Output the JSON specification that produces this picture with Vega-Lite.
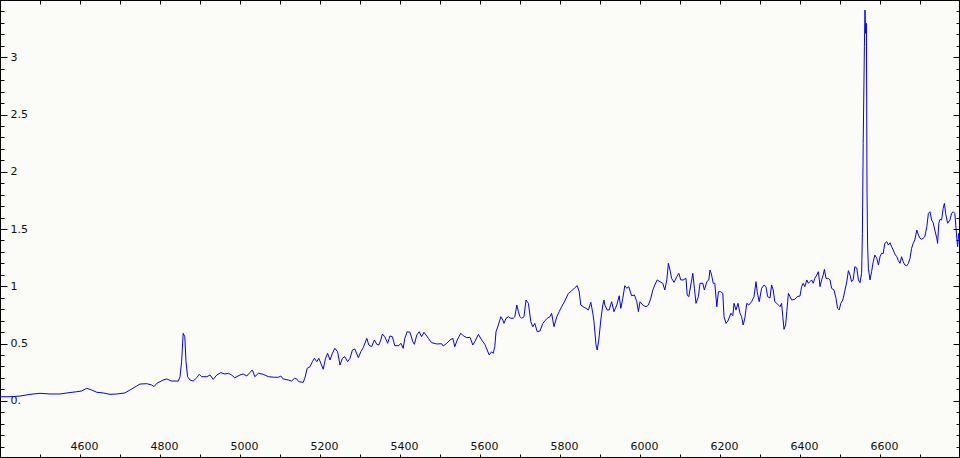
{
  "$schema": "https://vega.github.io/schema/vega-lite/v6.json",
  "width": 960,
  "height": 458,
  "autosize": {"type": "none"},
  "padding": 0,
  "background": "#fbfcf8",
  "config": {
    "view": {"stroke": "#000000", "strokeWidth": 2},
    "axis": {"domain": false, "grid": false, "tickColor": "#000000", "labelFont": "DejaVu Sans", "labelFontSize": 11, "labelColor": "#111111", "labelFlush": false, "labelOverlap": false}
  },
  "datasets": {
    "spec": [
      {"w": 4400, "f": 0.035}, {"w": 4425, "f": 0.035}, {"w": 4450, "f": 0.041}, {"w": 4475, "f": 0.056}, {"w": 4500, "f": 0.065},
      {"w": 4525, "f": 0.059}, {"w": 4550, "f": 0.059}, {"w": 4567, "f": 0.068}, {"w": 4592, "f": 0.079}, {"w": 4604, "f": 0.085},
      {"w": 4617, "f": 0.109}, {"w": 4629, "f": 0.094}, {"w": 4642, "f": 0.074}, {"w": 4658, "f": 0.068}, {"w": 4675, "f": 0.056},
      {"w": 4692, "f": 0.059}, {"w": 4712, "f": 0.068}, {"w": 4725, "f": 0.094}, {"w": 4742, "f": 0.129}, {"w": 4750, "f": 0.146},
      {"w": 4767, "f": 0.149}, {"w": 4779, "f": 0.138}, {"w": 4785, "f": 0.123}, {"w": 4792, "f": 0.152}, {"w": 4808, "f": 0.181},
      {"w": 4817, "f": 0.19}, {"w": 4829, "f": 0.172}, {"w": 4846, "f": 0.172}, {"w": 4850, "f": 0.21}, {"w": 4854, "f": 0.341},
      {"w": 4858, "f": 0.589}, {"w": 4862, "f": 0.559}, {"w": 4865, "f": 0.341}, {"w": 4869, "f": 0.21}, {"w": 4875, "f": 0.181},
      {"w": 4883, "f": 0.172}, {"w": 4892, "f": 0.201}, {"w": 4898, "f": 0.231}, {"w": 4904, "f": 0.21}, {"w": 4917, "f": 0.21},
      {"w": 4925, "f": 0.225}, {"w": 4933, "f": 0.187}, {"w": 4942, "f": 0.225}, {"w": 4952, "f": 0.245}, {"w": 4962, "f": 0.234},
      {"w": 4971, "f": 0.24}, {"w": 4979, "f": 0.225}, {"w": 4987, "f": 0.201}, {"w": 5000, "f": 0.225}, {"w": 5008, "f": 0.234},
      {"w": 5017, "f": 0.216}, {"w": 5025, "f": 0.248}, {"w": 5031, "f": 0.269}, {"w": 5037, "f": 0.21}, {"w": 5046, "f": 0.24},
      {"w": 5058, "f": 0.231}, {"w": 5071, "f": 0.21}, {"w": 5087, "f": 0.205}, {"w": 5096, "f": 0.205}, {"w": 5102, "f": 0.216},
      {"w": 5108, "f": 0.19}, {"w": 5121, "f": 0.181}, {"w": 5129, "f": 0.172}, {"w": 5136, "f": 0.196}, {"w": 5142, "f": 0.19},
      {"w": 5147, "f": 0.166}, {"w": 5158, "f": 0.161}, {"w": 5162, "f": 0.196}, {"w": 5168, "f": 0.283}, {"w": 5175, "f": 0.297},
      {"w": 5181, "f": 0.341}, {"w": 5186, "f": 0.371}, {"w": 5192, "f": 0.341}, {"w": 5197, "f": 0.371}, {"w": 5202, "f": 0.327},
      {"w": 5208, "f": 0.275}, {"w": 5214, "f": 0.371}, {"w": 5219, "f": 0.414}, {"w": 5225, "f": 0.356}, {"w": 5231, "f": 0.414},
      {"w": 5237, "f": 0.458}, {"w": 5244, "f": 0.428}, {"w": 5250, "f": 0.312}, {"w": 5256, "f": 0.371}, {"w": 5262, "f": 0.385},
      {"w": 5269, "f": 0.341}, {"w": 5275, "f": 0.371}, {"w": 5281, "f": 0.443}, {"w": 5287, "f": 0.452}, {"w": 5296, "f": 0.376},
      {"w": 5302, "f": 0.428}, {"w": 5308, "f": 0.463}, {"w": 5317, "f": 0.545}, {"w": 5322, "f": 0.487}, {"w": 5329, "f": 0.472},
      {"w": 5336, "f": 0.531}, {"w": 5342, "f": 0.493}, {"w": 5347, "f": 0.487}, {"w": 5352, "f": 0.531}, {"w": 5356, "f": 0.583},
      {"w": 5362, "f": 0.559}, {"w": 5369, "f": 0.502}, {"w": 5375, "f": 0.566}, {"w": 5381, "f": 0.559}, {"w": 5387, "f": 0.481},
      {"w": 5397, "f": 0.481}, {"w": 5402, "f": 0.502}, {"w": 5408, "f": 0.458}, {"w": 5412, "f": 0.545}, {"w": 5418, "f": 0.603},
      {"w": 5425, "f": 0.598}, {"w": 5432, "f": 0.516}, {"w": 5436, "f": 0.493}, {"w": 5442, "f": 0.574}, {"w": 5448, "f": 0.603},
      {"w": 5454, "f": 0.559}, {"w": 5460, "f": 0.598}, {"w": 5465, "f": 0.574}, {"w": 5471, "f": 0.545}, {"w": 5479, "f": 0.507},
      {"w": 5492, "f": 0.496}, {"w": 5504, "f": 0.498}, {"w": 5508, "f": 0.478}, {"w": 5517, "f": 0.502}, {"w": 5525, "f": 0.531},
      {"w": 5532, "f": 0.545}, {"w": 5537, "f": 0.472}, {"w": 5543, "f": 0.531}, {"w": 5552, "f": 0.589}, {"w": 5558, "f": 0.568},
      {"w": 5567, "f": 0.551}, {"w": 5575, "f": 0.554}, {"w": 5582, "f": 0.487}, {"w": 5587, "f": 0.516}, {"w": 5596, "f": 0.58},
      {"w": 5604, "f": 0.531}, {"w": 5612, "f": 0.493}, {"w": 5618, "f": 0.443}, {"w": 5623, "f": 0.4}, {"w": 5629, "f": 0.428},
      {"w": 5633, "f": 0.414}, {"w": 5637, "f": 0.472}, {"w": 5640, "f": 0.603}, {"w": 5646, "f": 0.662}, {"w": 5652, "f": 0.734},
      {"w": 5657, "f": 0.705}, {"w": 5660, "f": 0.676}, {"w": 5665, "f": 0.72}, {"w": 5671, "f": 0.734}, {"w": 5677, "f": 0.72},
      {"w": 5683, "f": 0.72}, {"w": 5687, "f": 0.734}, {"w": 5692, "f": 0.836}, {"w": 5696, "f": 0.778}, {"w": 5700, "f": 0.734},
      {"w": 5704, "f": 0.72}, {"w": 5710, "f": 0.734}, {"w": 5715, "f": 0.88}, {"w": 5721, "f": 0.851}, {"w": 5727, "f": 0.69},
      {"w": 5732, "f": 0.647}, {"w": 5737, "f": 0.676}, {"w": 5743, "f": 0.603}, {"w": 5750, "f": 0.609}, {"w": 5757, "f": 0.676},
      {"w": 5762, "f": 0.697}, {"w": 5768, "f": 0.72}, {"w": 5775, "f": 0.734}, {"w": 5779, "f": 0.764}, {"w": 5785, "f": 0.647},
      {"w": 5792, "f": 0.734}, {"w": 5798, "f": 0.778}, {"w": 5804, "f": 0.821}, {"w": 5812, "f": 0.871}, {"w": 5821, "f": 0.938},
      {"w": 5829, "f": 0.959}, {"w": 5837, "f": 0.987}, {"w": 5843, "f": 1.005}, {"w": 5848, "f": 0.952}, {"w": 5852, "f": 0.836},
      {"w": 5858, "f": 0.821}, {"w": 5865, "f": 0.807}, {"w": 5871, "f": 0.793}, {"w": 5877, "f": 0.86}, {"w": 5882, "f": 0.764},
      {"w": 5885, "f": 0.69}, {"w": 5890, "f": 0.487}, {"w": 5893, "f": 0.443}, {"w": 5897, "f": 0.531}, {"w": 5902, "f": 0.705},
      {"w": 5907, "f": 0.836}, {"w": 5910, "f": 0.88}, {"w": 5912, "f": 0.836}, {"w": 5918, "f": 0.793}, {"w": 5923, "f": 0.793},
      {"w": 5929, "f": 0.865}, {"w": 5935, "f": 0.778}, {"w": 5942, "f": 0.836}, {"w": 5948, "f": 0.917}, {"w": 5952, "f": 0.807},
      {"w": 5957, "f": 0.895}, {"w": 5962, "f": 1.005}, {"w": 5967, "f": 0.982}, {"w": 5972, "f": 0.996}, {"w": 5979, "f": 0.917},
      {"w": 5986, "f": 0.924}, {"w": 5992, "f": 0.865}, {"w": 5996, "f": 0.778}, {"w": 6000, "f": 0.865}, {"w": 6007, "f": 0.836},
      {"w": 6015, "f": 0.821}, {"w": 6021, "f": 0.836}, {"w": 6027, "f": 0.895}, {"w": 6032, "f": 0.967}, {"w": 6037, "f": 1.011},
      {"w": 6043, "f": 1.055}, {"w": 6050, "f": 1.04}, {"w": 6057, "f": 1.026}, {"w": 6062, "f": 0.967}, {"w": 6067, "f": 1.055},
      {"w": 6071, "f": 1.2}, {"w": 6075, "f": 1.142}, {"w": 6079, "f": 1.069}, {"w": 6085, "f": 1.034}, {"w": 6092, "f": 1.083},
      {"w": 6097, "f": 1.113}, {"w": 6102, "f": 1.055}, {"w": 6108, "f": 1.055}, {"w": 6115, "f": 1.069}, {"w": 6118, "f": 0.924},
      {"w": 6122, "f": 0.909}, {"w": 6127, "f": 1.011}, {"w": 6132, "f": 1.113}, {"w": 6136, "f": 0.982}, {"w": 6140, "f": 0.851},
      {"w": 6146, "f": 0.909}, {"w": 6150, "f": 1.026}, {"w": 6157, "f": 1.026}, {"w": 6161, "f": 0.967}, {"w": 6167, "f": 1.04},
      {"w": 6172, "f": 1.055}, {"w": 6175, "f": 1.142}, {"w": 6179, "f": 1.098}, {"w": 6183, "f": 1.026}, {"w": 6187, "f": 1.026},
      {"w": 6192, "f": 0.821}, {"w": 6196, "f": 0.952}, {"w": 6202, "f": 0.952}, {"w": 6207, "f": 0.938}, {"w": 6210, "f": 0.734},
      {"w": 6215, "f": 0.676}, {"w": 6221, "f": 0.705}, {"w": 6227, "f": 0.764}, {"w": 6232, "f": 0.743}, {"w": 6235, "f": 0.851},
      {"w": 6240, "f": 0.793}, {"w": 6245, "f": 0.851}, {"w": 6250, "f": 0.764}, {"w": 6254, "f": 0.734}, {"w": 6258, "f": 0.662},
      {"w": 6262, "f": 0.72}, {"w": 6267, "f": 0.851}, {"w": 6272, "f": 0.836}, {"w": 6279, "f": 0.865}, {"w": 6285, "f": 0.909},
      {"w": 6290, "f": 1.04}, {"w": 6293, "f": 0.952}, {"w": 6298, "f": 0.865}, {"w": 6304, "f": 0.982}, {"w": 6310, "f": 1.011},
      {"w": 6315, "f": 0.996}, {"w": 6319, "f": 0.909}, {"w": 6325, "f": 0.897}, {"w": 6329, "f": 1.011}, {"w": 6333, "f": 0.967},
      {"w": 6337, "f": 0.865}, {"w": 6342, "f": 0.851}, {"w": 6346, "f": 0.836}, {"w": 6350, "f": 0.821}, {"w": 6354, "f": 0.851},
      {"w": 6357, "f": 0.734}, {"w": 6360, "f": 0.624}, {"w": 6364, "f": 0.662}, {"w": 6367, "f": 0.778}, {"w": 6371, "f": 0.938},
      {"w": 6375, "f": 0.909}, {"w": 6379, "f": 0.88}, {"w": 6387, "f": 0.886}, {"w": 6393, "f": 0.909}, {"w": 6400, "f": 0.915},
      {"w": 6404, "f": 0.996}, {"w": 6408, "f": 1.026}, {"w": 6412, "f": 0.996}, {"w": 6417, "f": 1.055}, {"w": 6421, "f": 1.026},
      {"w": 6425, "f": 1.04}, {"w": 6429, "f": 1.055}, {"w": 6433, "f": 1.026}, {"w": 6437, "f": 1.069}, {"w": 6442, "f": 1.098},
      {"w": 6446, "f": 1.127}, {"w": 6450, "f": 0.996}, {"w": 6454, "f": 1.055}, {"w": 6458, "f": 1.098}, {"w": 6461, "f": 1.148},
      {"w": 6465, "f": 1.069}, {"w": 6471, "f": 1.069}, {"w": 6475, "f": 1.055}, {"w": 6479, "f": 0.982}, {"w": 6485, "f": 0.967},
      {"w": 6490, "f": 0.895}, {"w": 6494, "f": 0.807}, {"w": 6498, "f": 0.793}, {"w": 6502, "f": 0.851}, {"w": 6507, "f": 0.88},
      {"w": 6512, "f": 0.959}, {"w": 6517, "f": 1.04}, {"w": 6521, "f": 1.136}, {"w": 6525, "f": 1.098}, {"w": 6529, "f": 1.04},
      {"w": 6533, "f": 1.055}, {"w": 6537, "f": 1.171}, {"w": 6542, "f": 1.159}, {"w": 6546, "f": 1.055}, {"w": 6550, "f": 1.031},
      {"w": 6554, "f": 1.113}, {"w": 6556, "f": 1.462}, {"w": 6558, "f": 2.248}, {"w": 6561, "f": 3.092}, {"w": 6562.5, "f": 3.413},
      {"w": 6564, "f": 3.209}, {"w": 6566, "f": 3.296}, {"w": 6567.5, "f": 1.841}, {"w": 6569, "f": 1.36}, {"w": 6571, "f": 1.157},
      {"w": 6575, "f": 1.055}, {"w": 6579, "f": 1.127}, {"w": 6583, "f": 1.214}, {"w": 6587, "f": 1.273}, {"w": 6592, "f": 1.244},
      {"w": 6596, "f": 1.186}, {"w": 6600, "f": 1.258}, {"w": 6604, "f": 1.288}, {"w": 6608, "f": 1.284}, {"w": 6612, "f": 1.375},
      {"w": 6617, "f": 1.389}, {"w": 6621, "f": 1.36}, {"w": 6625, "f": 1.38}, {"w": 6629, "f": 1.345}, {"w": 6633, "f": 1.317},
      {"w": 6637, "f": 1.282}, {"w": 6642, "f": 1.258}, {"w": 6646, "f": 1.223}, {"w": 6650, "f": 1.2}, {"w": 6654, "f": 1.258},
      {"w": 6658, "f": 1.214}, {"w": 6662, "f": 1.186}, {"w": 6667, "f": 1.179}, {"w": 6671, "f": 1.2}, {"w": 6675, "f": 1.244},
      {"w": 6679, "f": 1.331}, {"w": 6683, "f": 1.375}, {"w": 6687, "f": 1.404}, {"w": 6692, "f": 1.491}, {"w": 6696, "f": 1.448},
      {"w": 6700, "f": 1.419}, {"w": 6704, "f": 1.41}, {"w": 6708, "f": 1.419}, {"w": 6712, "f": 1.433}, {"w": 6717, "f": 1.52},
      {"w": 6721, "f": 1.637}, {"w": 6725, "f": 1.651}, {"w": 6729, "f": 1.579}, {"w": 6733, "f": 1.555}, {"w": 6737, "f": 1.491},
      {"w": 6742, "f": 1.419}, {"w": 6744, "f": 1.375}, {"w": 6747, "f": 1.55}, {"w": 6750, "f": 1.585}, {"w": 6754, "f": 1.579},
      {"w": 6758, "f": 1.681}, {"w": 6761, "f": 1.724}, {"w": 6764, "f": 1.637}, {"w": 6769, "f": 1.55}, {"w": 6775, "f": 1.579},
      {"w": 6779, "f": 1.637}, {"w": 6783, "f": 1.651}, {"w": 6787, "f": 1.637}, {"w": 6792, "f": 1.419}, {"w": 6794, "f": 1.345},
      {"w": 6797, "f": 1.462}, {"w": 6799, "f": 1.404}
    ]
  },
  "data": {"name": "spec"},
  "resolve": {"axis": {"x": "independent", "y": "independent"}},
  "layer": [
    {
      "mark": {"type": "line", "color": "#0000ff", "strokeWidth": 1, "clip": true},
      "encoding": {
        "x": {"field": "w", "type": "quantitative", "scale": {"domain": [4400, 6800], "nice": false, "zero": false},
          "axis": {"orient": "top", "offset": -458, "title": null, "tickSize": 4, "labelPadding": 4.5, "labelBaseline": "alphabetic", "labelOffset": 4,
            "values": [4500, 4600, 4700, 4800, 4900, 5000, 5100, 5200, 5300, 5400, 5500, 5600, 5700, 5800, 5900, 6000, 6100, 6200, 6300, 6400, 6500, 6600, 6700],
            "labelExpr": "datum.value % 200 === 0 ? format(datum.value, 'd') : ''"}},
        "y": {"field": "f", "type": "quantitative", "scale": {"domain": [-0.5, 3.5], "nice": false, "zero": false},
          "axis": {"orient": "right", "offset": -960, "title": null, "tickSize": 7, "labelPadding": 3, "labelAlign": "left", "labelBaseline": "middle",
            "values": [0, 0.5, 1, 1.5, 2, 2.5, 3],
            "labelExpr": "datum.value === 0 ? '0.' : format(datum.value, '~g')"}}
      }
    },
    {
      "mark": {"type": "line", "strokeOpacity": 0},
      "encoding": {
        "x": {"field": "w", "type": "quantitative", "scale": {"domain": [4400, 6800], "nice": false, "zero": false},
          "axis": {"orient": "bottom", "offset": -458, "title": null, "tickSize": 4, "labels": false,
            "values": [4500, 4600, 4700, 4800, 4900, 5000, 5100, 5200, 5300, 5400, 5500, 5600, 5700, 5800, 5900, 6000, 6100, 6200, 6300, 6400, 6500, 6600, 6700]}},
        "y": {"field": "f", "type": "quantitative", "scale": {"domain": [-0.5, 3.5], "nice": false, "zero": false},
          "axis": {"orient": "right", "offset": -960, "title": null, "tickSize": 4, "labels": false,
            "values": [-0.4, -0.3, -0.2, -0.1, 0.1, 0.2, 0.3, 0.4, 0.6, 0.7, 0.8, 0.9, 1.1, 1.2, 1.3, 1.4, 1.6, 1.7, 1.8, 1.9, 2.1, 2.2, 2.3, 2.4, 2.6, 2.7, 2.8, 2.9, 3.1, 3.2, 3.3, 3.4]}}
      }
    },
    {
      "mark": {"type": "line", "strokeOpacity": 0},
      "encoding": {
        "x": {"field": "w", "type": "quantitative", "scale": {"domain": [4400, 6800], "nice": false, "zero": false}, "axis": null},
        "y": {"field": "f", "type": "quantitative", "scale": {"domain": [-0.5, 3.5], "nice": false, "zero": false},
          "axis": {"orient": "left", "offset": -960, "title": null, "tickSize": 7, "labels": false,
            "values": [0, 0.5, 1, 1.5, 2, 2.5, 3]}}
      }
    },
    {
      "mark": {"type": "line", "strokeOpacity": 0},
      "encoding": {
        "x": {"field": "w", "type": "quantitative", "scale": {"domain": [4400, 6800], "nice": false, "zero": false}, "axis": null},
        "y": {"field": "f", "type": "quantitative", "scale": {"domain": [-0.5, 3.5], "nice": false, "zero": false},
          "axis": {"orient": "left", "offset": -960, "title": null, "tickSize": 4, "labels": false,
            "values": [-0.4, -0.3, -0.2, -0.1, 0.1, 0.2, 0.3, 0.4, 0.6, 0.7, 0.8, 0.9, 1.1, 1.2, 1.3, 1.4, 1.6, 1.7, 1.8, 1.9, 2.1, 2.2, 2.3, 2.4, 2.6, 2.7, 2.8, 2.9, 3.1, 3.2, 3.3, 3.4]}}
      }
    }
  ]
}
